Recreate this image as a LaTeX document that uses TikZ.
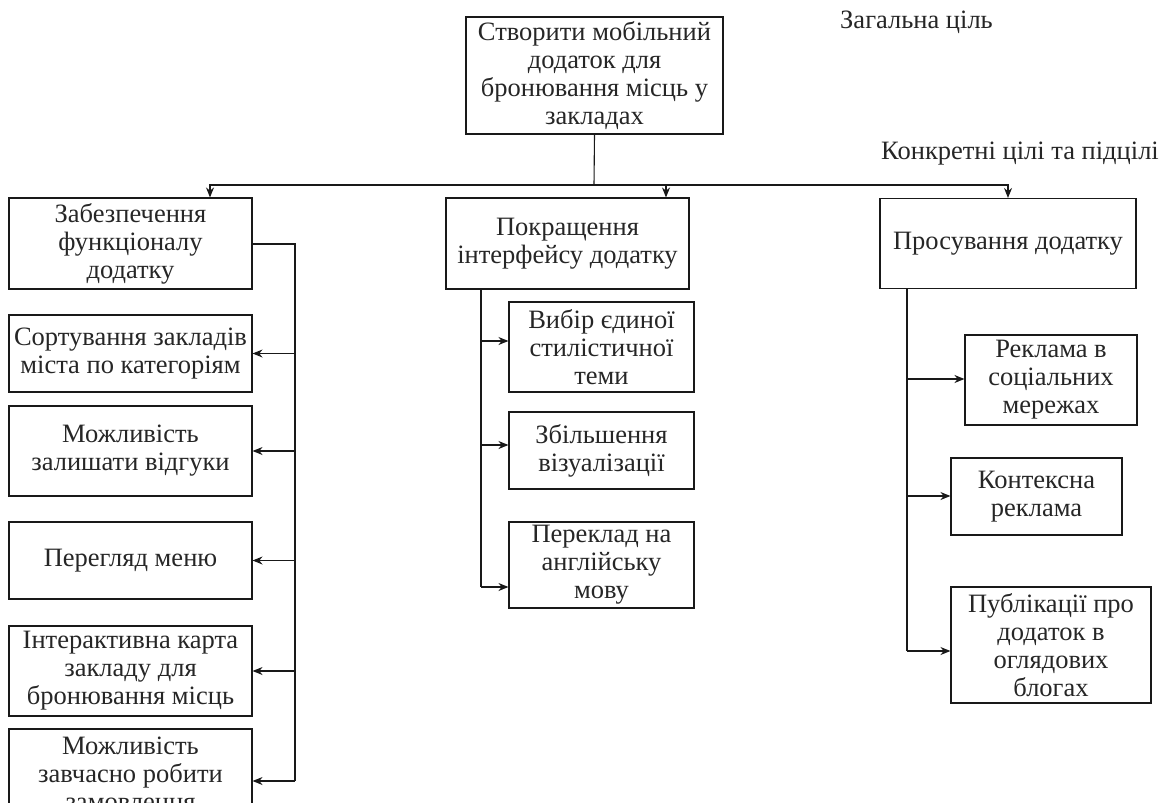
\documentclass[tikz,border=0pt]{standalone}
\usepackage{fontspec}
\setmainfont{Liberation Serif}
\usetikzlibrary{arrows.meta}
\begin{document}
\begin{tikzpicture}[x=1pt,y=-1pt,
  box/.style={draw=black!90, line width=1.1pt, align=center, inner sep=0pt,
    text=black!85, font=\fontsize{26.5}{28}\selectfont},
  lbl/.style={inner sep=0pt, text=black!85, font=\fontsize{26.5}{28}\selectfont},
  link/.style={draw=black!90, line width=1.1pt},
  arr/.style={link, -{Stealth[length=10pt,width=8pt]}}]
\useasboundingbox (0,0) rectangle (1173,803);
\clip (0,0) rectangle (1173,803);

% top-level goal
\node[box, minimum width=257pt, minimum height=117pt] (goal) at (594.5,75.5)
  {Створити мобільний\\додаток для\\бронювання місць у\\закладах};
\node[lbl, anchor=west] (gl) at (840,22) {Загальна ціль};
\node[lbl, anchor=west] (cl) at (881,154) {Конкретні цілі та підцілі};

% second level
\node[box, minimum width=243pt, minimum height=91pt] (f) at (130.5,243.5)
  {Забезпечення\\функціоналу\\додатку};
\node[box, minimum width=243pt, minimum height=91pt] (i) at (567.5,243.5)
  {Покращення\\інтерфейсу додатку};
\node[box, minimum width=256pt, minimum height=90pt] (p) at (1008,243.5)
  {Просування додатку};

% functionality sub-goals
\node[box, minimum width=243pt, minimum height=77pt] (f1) at (130.5,353.5)
  {Сортування закладів\\міста по категоріям};
\node[box, minimum width=243pt, minimum height=90pt] (f2) at (130.5,451)
  {Можливість\\залишати відгуки};
\node[box, minimum width=243pt, minimum height=77pt] (f3) at (130.5,560.5)
  {Перегляд меню};
\node[box, minimum width=243pt, minimum height=90pt] (f4) at (130.5,671)
  {Інтерактивна карта\\закладу для\\бронювання місць};
\node[box, minimum width=243pt, minimum height=90pt] (f5) at (130.5,774)
  {Можливість\\завчасно робити\\замовлення};

% interface sub-goals
\node[box, minimum width=185pt, minimum height=90pt] (i1) at (601.5,347)
  {Вибір єдиної\\стилістичної\\теми};
\node[box, minimum width=185pt, minimum height=77pt] (i2) at (601.5,450.5)
  {Збільшення\\візуалізації};
\node[box, minimum width=185pt, minimum height=86pt] (i3) at (601.5,565)
  {Переклад на\\англійську\\мову};

% promotion sub-goals
\node[box, minimum width=172pt, minimum height=90pt] (p1) at (1051,380)
  {Реклама в\\соціальних\\мережах};
\node[box, minimum width=171pt, minimum height=77pt] (p2) at (1036.5,496.5)
  {Контексна\\реклама};
\node[box, minimum width=200pt, minimum height=116pt] (p3) at (1051,645)
  {Публікації про\\додаток в\\оглядових\\блогах};

% distribution bus under the main goal
\coordinate (bus) at (594,185);
\draw[link] (goal.south) -- (bus);
\draw[arr] (bus) -| ([xshift=79.5pt]f.north);
\draw[arr] (bus) -| ([xshift=98.5pt]i.north);
\draw[arr] (bus) -| (p.north);

% functionality trunk
\coordinate (fT) at (295,244);
\coordinate (fB) at (295,781);
\draw[link] (f.east |- fT) -- (fT) -- (fB);
\draw[arr] (fT |- f1.east) -- (f1.east);
\draw[arr] (fT |- f2.east) -- (f2.east);
\draw[arr] (fT |- f3.east) -- (f3.east);
\draw[arr] (fT |- f4.east) -- (f4.east);
\draw[arr] (fB) -- (fB -| f5.east);

% interface trunk
\coordinate (iT) at (481,289);
\coordinate (ia) at (481,341);
\coordinate (ib) at (481,445);
\coordinate (ic) at (481,587);
\draw[link] (iT) -- (ic);
\draw[arr] (ia) -- (ia -| i1.west);
\draw[arr] (ib) -- (ib -| i2.west);
\draw[arr] (ic) -- (ic -| i3.west);

% promotion trunk
\coordinate (pT) at (907,288.5);
\coordinate (pa) at (907,379);
\coordinate (pb) at (907,496);
\coordinate (pc) at (907,651);
\draw[link] (pT) -- (pc);
\draw[arr] (pa) -- (pa -| p1.west);
\draw[arr] (pb) -- (pb -| p2.west);
\draw[arr] (pc) -- (pc -| p3.west);
\end{tikzpicture}
\end{document}
